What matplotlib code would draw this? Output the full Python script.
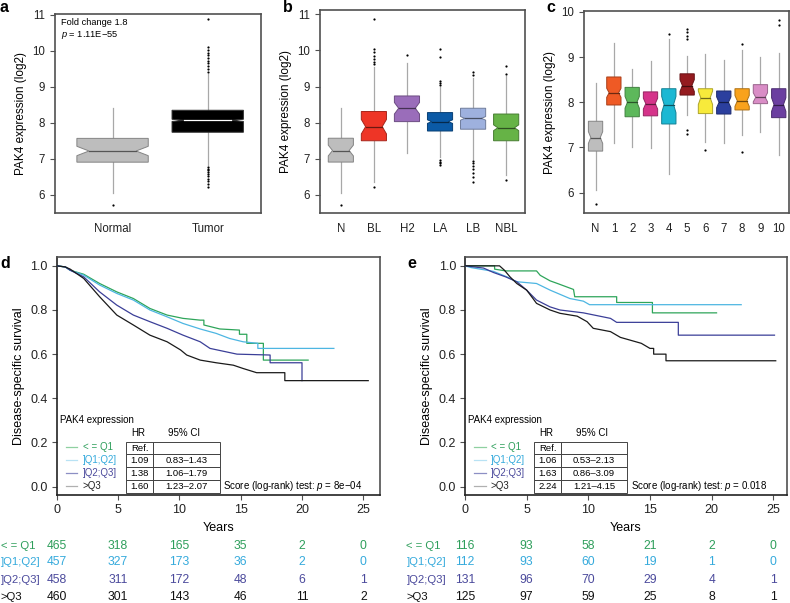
import numpy as np
import matplotlib.pyplot as plt
from matplotlib.patches import Polygon
from matplotlib.transforms import blended_transform_factory

plt.rcParams['font.family'] = ['Liberation Sans', 'DejaVu Sans']
plt.rcParams['font.size'] = 7.5
plt.rcParams['mathtext.fontset'] = 'custom'
plt.rcParams['mathtext.it'] = 'Liberation Sans:italic'
plt.rcParams['mathtext.rm'] = 'Liberation Sans'

FRAME = '#505050'
WHISK = '#a8a8a8'

# ---- panel a: normal vs tumor
a_labels = ['Normal', 'Tumor']
a_q1 = [6.91, 7.74]
a_med = [7.22, 8.07]
a_q3 = [7.57, 8.35]
a_lo = [6.05, 6.82]
a_hi = [8.40, 9.35]
a_notch = [0.13, 0.03]
a_out = [[5.72],
         [6.23, 6.3, 6.38, 6.45, 6.52, 6.58, 6.63, 6.68, 6.73, 6.78,
          9.42, 9.5, 9.58, 9.65, 9.72, 9.8, 9.88, 9.95, 10.03, 10.1, 10.87]]
a_fill = ['#bdbdbd', '#000000']
a_medc = ['#555555', '#ffffff']

# ---- panel b: subtypes
b_labels = ['N', 'BL', 'H2', 'LA', 'LB', 'NBL']
b_q1 = [6.91, 7.50, 8.03, 7.77, 7.82, 7.50]
b_med = [7.23, 7.89, 8.40, 8.03, 8.12, 7.86]
b_q3 = [7.57, 8.31, 8.74, 8.28, 8.40, 8.24]
b_lo = [6.05, 6.35, 7.16, 7.05, 7.00, 6.55]
b_hi = [8.40, 9.55, 9.65, 8.98, 9.25, 9.28]
b_notch = [0.15, 0.2, 0.16, 0.05, 0.05, 0.08]
b_out = [[5.72],
         [6.23, 9.62, 9.68, 9.75, 9.85, 9.95, 10.05, 10.87],
         [9.87],
         [6.84, 6.88, 6.92, 6.96, 9.05, 9.1, 9.15, 9.82, 10.05],
         [6.35, 6.5, 6.62, 6.72, 6.8, 6.88, 6.95, 9.32, 9.4],
         [6.4, 9.35, 9.58]]
b_fill = ['#bdbdbd', '#ee3526', '#9a6dba', '#0b5aa6', '#9eb1de', '#66b346']

# ---- panel c: clusters
c_labels = ['N', '1', '2', '3', '4', '5', '6', '7', '8', '9', '10']
c_q1 = [6.92, 7.94, 7.68, 7.70, 7.52, 8.16, 7.75, 7.74, 7.83, 7.97, 7.66]
c_med = [7.22, 8.21, 8.00, 7.97, 7.95, 8.37, 8.10, 8.00, 8.03, 8.11, 7.95]
c_q3 = [7.58, 8.56, 8.33, 8.23, 8.30, 8.63, 8.30, 8.25, 8.30, 8.39, 8.30]
c_lo = [6.06, 7.09, 7.01, 6.98, 6.42, 7.71, 7.12, 7.10, 7.27, 7.35, 6.83]
c_hi = [8.42, 9.31, 8.73, 8.91, 9.41, 9.02, 9.06, 8.93, 9.15, 9.00, 9.08]
c_notch = [0.13, 0.1, 0.13, 0.12, 0.18, 0.13, 0.15, 0.12, 0.12, 0.1, 0.15]
c_out = [[5.75], [], [], [], [9.52], [7.3, 7.38, 9.4, 9.47, 9.55, 9.63],
         [6.94], [], [6.9, 9.28], [], [9.71, 9.83]]
c_fill = ['#bdbdbd', '#ef5a25', '#5db85b', '#d5338a', '#1cb8d3', '#941b1f',
          '#f7ea3b', '#2b3f9e', '#f9a21c', '#d98dc6', '#6b3fa0']

# ---- survival groups
groups = ['< = Q1', ']Q1;Q2]', ']Q2;Q3]', '>Q3']
km_colors = ['#2ea55a', '#4db6e2', '#3b3f98', '#1a1a1a']
txt_colors = ['#2e9e5b', '#35aadc', '#4b4a9c', '#111111']
leg_colors = ['#8fd0a0', '#b8e2f4', '#8c8fc4', '#b0b0b0']

# panel d curves (years, survival)
d_t = [[0, 0.7, 1.1, 2.2, 3.5, 4.9, 6.25, 7.6, 9.0, 10.3, 11.7, 12.0, 12.0, 13.3,
        14.9, 14.9, 15.5, 15.5, 16.85, 16.85, 20.5],
       [0, 0.7, 1.1, 2.2, 3.5, 4.9, 6.25, 7.6, 9.0, 10.3, 11.7, 13.0, 14.1, 15.2,
        16.4, 16.4, 22.6],
       [0, 0.7, 1.1, 2.2, 3.5, 4.9, 6.25, 7.6, 9.0, 10.3, 11.7, 12.5, 14.7, 17.4,
        17.4, 20.0, 20.0],
       [0, 0.7, 1.1, 2.2, 3.5, 4.9, 6.25, 7.6, 9.0, 10.1, 10.6, 11.7, 13.0, 14.4,
        15.2, 16.3, 18.6, 18.6, 25.4]]
d_s = [[1, 0.995, 0.98, 0.962, 0.92, 0.882, 0.852, 0.807, 0.777, 0.762, 0.754, 0.754,
        0.732, 0.714, 0.709, 0.69, 0.69, 0.649, 0.649, 0.573, 0.573],
       [1, 0.995, 0.98, 0.958, 0.913, 0.875, 0.845, 0.80, 0.769, 0.739, 0.714, 0.694,
        0.671, 0.656, 0.649, 0.626, 0.626],
       [1, 0.995, 0.98, 0.95, 0.882, 0.822, 0.777, 0.747, 0.717, 0.686, 0.656, 0.626,
        0.60, 0.596, 0.561, 0.561, 0.48],
       [1, 0.995, 0.985, 0.943, 0.86, 0.777, 0.732, 0.686, 0.656, 0.619, 0.596, 0.573,
        0.561, 0.55, 0.535, 0.516, 0.516, 0.48, 0.48]]
d_hr = ['Ref.', '1.09', '1.38', '1.60']
d_ci = ['', '0.83\u20131.43', '1.06\u20131.79', '1.23\u20132.07']
d_p = '8e\u221204'
d_risk = [[465, 318, 165, 35, 2, 0],
          [457, 327, 173, 36, 2, 0],
          [458, 311, 172, 48, 6, 1],
          [460, 301, 143, 46, 11, 2]]

# panel e curves
e_t = [[0, 2.4, 2.4, 3.3, 5.8, 6.1, 6.9, 7.5, 8.8, 8.9, 12.3, 12.3, 15.2, 15.2, 20.4],
       [0, 0.5, 2.3, 3.4, 4.2, 5.8, 6.9, 8.5, 9.6, 10.1, 22.4],
       [0, 1.5, 2.3, 3.3, 4.2, 5.0, 5.8, 6.9, 7.7, 9.6, 11.8, 12.3, 17.3, 17.3, 25.1],
       [0, 2.8, 3.2, 3.65, 4.2, 5.0, 5.5, 5.8, 6.9, 7.7, 9.1, 9.9, 10.4, 11.8, 12.6,
        14.3, 15.0, 15.3, 15.3, 16.3, 16.3, 25.2]]
e_s = [[1, 1, 0.985, 0.977, 0.977, 0.957, 0.932, 0.92, 0.893, 0.86, 0.86, 0.834,
        0.834, 0.787, 0.787],
       [1, 0.992, 0.975, 0.95, 0.928, 0.92, 0.89, 0.852, 0.84, 0.824, 0.824],
       [1, 0.99, 0.97, 0.95, 0.928, 0.89, 0.845, 0.814, 0.80, 0.787, 0.762, 0.744,
        0.744, 0.686, 0.686],
       [1, 1, 0.98, 0.95, 0.92, 0.89, 0.853, 0.83, 0.80, 0.785, 0.772, 0.747, 0.717,
        0.702, 0.676, 0.649, 0.626, 0.626, 0.60, 0.60, 0.57, 0.57]]
e_hr = ['Ref.', '1.06', '1.63', '2.24']
e_ci = ['', '0.53\u20132.13', '0.86\u20133.09', '1.21\u20134.15']
e_p = '0.018'
e_risk = [[116, 93, 58, 21, 2, 0],
          [112, 93, 60, 19, 1, 0],
          [131, 96, 70, 29, 4, 1],
          [125, 97, 59, 25, 8, 1]]
risk_years = [0, 5, 10, 15, 20, 25]


def darker(c, f=0.6):
    rgb = np.array(plt.matplotlib.colors.to_rgb(c))
    return tuple(rgb * f)


def style_frame(ax, size=8.3):
    for s in ax.spines.values():
        s.set_color(FRAME)
        s.set_linewidth(1.2)
    ax.tick_params(colors='#222222', length=3.5, width=0.8, labelsize=size)
    ax.tick_params(axis='both', color=FRAME)


def boxes(ax, pos, q1, med, q3, lo, hi, notch, outs, fills, medcs=None,
          width=0.76, indent=0.17):
    for i, p in enumerate(pos):
        l, r = p - width / 2, p + width / 2
        nl, nr = l + width * indent, r - width * indent
        xs = [l, r, r, nr, r, r, l, l, nl, l]
        ys = [q1[i], q1[i], med[i] - notch[i], med[i], med[i] + notch[i],
              q3[i], q3[i], med[i] + notch[i], med[i], med[i] - notch[i]]
        ax.plot([p, p], [q3[i], hi[i]], color=WHISK, lw=0.9, zorder=2)
        ax.plot([p, p], [lo[i], q1[i]], color=WHISK, lw=0.9, zorder=2)
        ec = '#333333' if fills[i] == '#000000' else darker(fills[i], 0.7)
        ax.add_patch(Polygon(np.column_stack([xs, ys]), closed=True,
                             fc=fills[i], ec=ec, lw=0.7, zorder=3))
        mc = medcs[i] if medcs else darker(fills[i], 0.45)
        ax.plot([nl, nr], [med[i], med[i]], color=mc, lw=0.9, zorder=4)
        if outs[i]:
            ax.plot([p] * len(outs[i]), outs[i], 'o', ms=1.6, mfc='black',
                    mec='none', zorder=5)


fig = plt.figure(figsize=(7.9, 6.03), dpi=100)
W, H = 790.0, 603.0


def add_axes(x0, y0, x1, y1):
    return fig.add_axes([x0 / W, 1 - y1 / H, (x1 - x0) / W, (y1 - y0) / H])


# panel a
ax_a = add_axes(55, 14, 261, 213)
pa = np.arange(1, 3)
boxes(ax_a, pa, a_q1, a_med, a_q3, a_lo, a_hi, a_notch, a_out, a_fill, a_medc, width=0.75)
ax_a.set_xlim(0.395, 2.56)
ax_a.set_ylim(5.5, 11.02)
ax_a.set_yticks(range(6, 12))
ax_a.set_xticks(pa)
ax_a.set_xticklabels(a_labels)
ax_a.set_ylabel('PAK4 expression (log2)', fontsize=8.5)
style_frame(ax_a)
ax_a.tick_params(axis='x', length=0, pad=7)
ax_a.text(0.03, 0.955, 'Fold change 1.8', transform=ax_a.transAxes, fontsize=6.7,
          va='center')
ax_a.text(0.03, 0.895, '$p$ = 1.11E\u221255', transform=ax_a.transAxes, fontsize=6.7,
          va='center')

# panel b
ax_b = add_axes(320, 10, 525, 213)
pb = np.arange(1, len(b_labels) + 1)
boxes(ax_b, pb, b_q1, b_med, b_q3, b_lo, b_hi, b_notch, b_out, b_fill)
ax_b.set_xlim(0.37, 6.57)
ax_b.set_ylim(5.5, 11.12)
ax_b.set_yticks(range(6, 12))
ax_b.set_xticks(pb)
ax_b.set_xticklabels(b_labels)
ax_b.set_ylabel('PAK4 expression (log2)', fontsize=8.5)
style_frame(ax_b)
ax_b.tick_params(axis='x', length=0, pad=7)

# panel c
ax_c = add_axes(584, 11, 789, 213)
pc = np.arange(len(c_labels))
boxes(ax_c, pc, c_q1, c_med, c_q3, c_lo, c_hi, c_notch, c_out, c_fill, width=0.78)
ax_c.set_xlim(-0.63, 10.56)
ax_c.set_ylim(5.55, 10.02)
ax_c.set_yticks(range(6, 11))
ax_c.set_xticks(pc)
ax_c.set_xticklabels(c_labels)
ax_c.set_ylabel('PAK4 expression (log2)', fontsize=8.5)
style_frame(ax_c)
ax_c.tick_params(axis='x', length=0, pad=7)


def km_panel(ax, ts, ss, hr, ci, pval, risk, xmax, label_x):
    for t, s, c in zip(ts, ss, km_colors):
        ax.plot(t, s, color=c, lw=0.9, zorder=3)
    ax.set_xlim(0, xmax)
    ax.set_ylim(-0.038, 1.04)
    ax.set_xticks(risk_years)
    ax.set_yticks([0.0, 0.2, 0.4, 0.6, 0.8, 1.0])
    ax.set_yticklabels(['0.0', '0.2', '0.4', '0.6', '0.8', '1.0'])
    ax.set_xlabel('Years', fontsize=9, labelpad=4)
    ax.set_ylabel('Disease-specific survival', fontsize=9)
    style_frame(ax, size=9)
    ax.tick_params(pad=3)
    ax.spines['left'].set_color('#222222')
    ax.spines['bottom'].set_color('#222222')

    ax.text(0.01, 0.315, 'PAK4 expression', transform=ax.transAxes, fontsize=7,
            va='center')
    ax.text(0.253, 0.259, 'HR', transform=ax.transAxes, fontsize=7,
            va='center', ha='center')
    ax.text(0.395, 0.259, '95% CI', transform=ax.transAxes, fontsize=7,
            va='center', ha='center')
    rows_y = [0.203, 0.146, 0.092, 0.038]
    for g, lc, tc, y in zip(groups, leg_colors, txt_colors, rows_y):
        ax.plot([0.028, 0.064], [y, y], transform=ax.transAxes, color=lc, lw=0.9)
        ax.text(0.08, y, g, transform=ax.transAxes, color=tc if g != '>Q3' else '#222222',
                fontsize=7, va='center')
    cells = [[h, c] for h, c in zip(hr, ci)]
    tab = ax.table(cellText=cells, cellLoc='center',
                   bbox=[0.215, 0.01, 0.289, 0.214], colWidths=[0.29, 0.71])
    tab.auto_set_font_size(False)
    tab.set_fontsize(6.8)
    for cell in tab.get_celld().values():
        cell.set_linewidth(0.7)
        cell.set_edgecolor('#444444')
        cell.set_facecolor('none')
    ax.text(0.515, 0.038, 'Score (log-rank) test: $p$ = ' + pval, transform=ax.transAxes,
            fontsize=7, va='center')

    tr = blended_transform_factory(ax.transData, fig.transFigure)
    risk_y = [1 - 545.7 / H, 1 - 562.3 / H, 1 - 580 / H, 1 - 597.3 / H]
    for g, c, row, y in zip(groups, txt_colors, risk, risk_y):
        fig.text(label_x, y, g, color=c, fontsize=8.2, va='center', ha='left')
        for yr, n in zip(risk_years, row):
            fig.text(yr, y, str(n), color=c, fontsize=8.7, va='center', ha='center',
                     transform=tr)


ax_d = add_axes(56.7, 257, 380, 495)
km_panel(ax_d, d_t, d_s, d_hr, d_ci, d_p, d_risk, 26.36, 0.001)

ax_e = add_axes(465, 257, 786.7, 495)
km_panel(ax_e, e_t, e_s, e_hr, e_ci, e_p, e_risk, 26.09, 406.5 / W)

# panel letters
for lab, x, y in [('a', 0, 8), ('b', 283, 8), ('c', 546, 8), ('d', 0, 264), ('e', 407, 264)]:
    fig.text(x / W, 1 - y / H, lab, fontsize=11.5, fontweight='bold', va='center',
             ha='left')

fig.savefig('out.png', dpi=100)
